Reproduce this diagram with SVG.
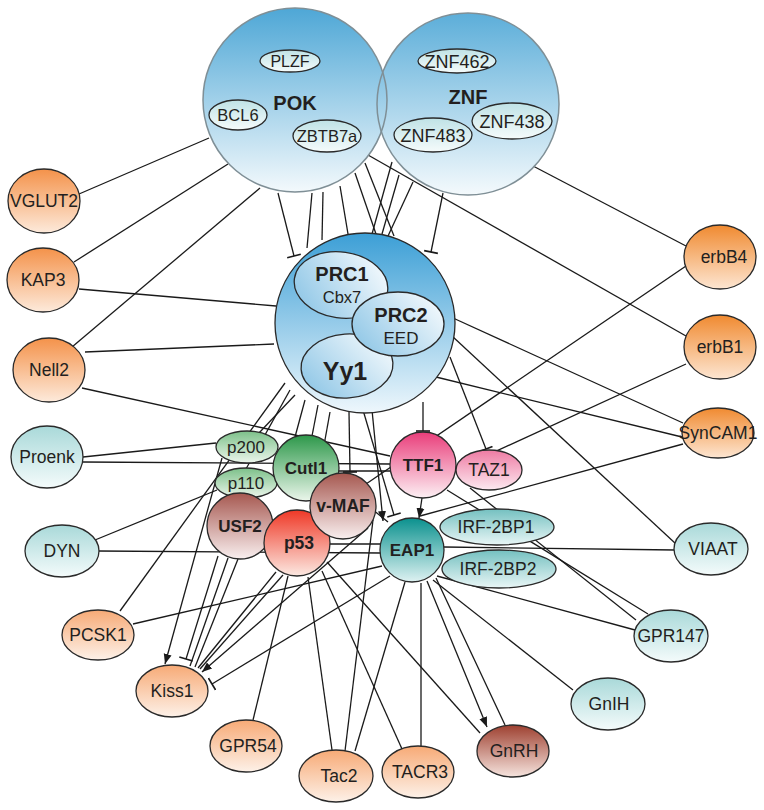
<svg xmlns="http://www.w3.org/2000/svg" width="764" height="810" viewBox="0 0 764 810">
<defs>
<linearGradient id="gBig" x1="0" y1="0" x2="0" y2="1"><stop offset="0" stop-color="#4ea7d6"/><stop offset="1" stop-color="#f3f9fc"/></linearGradient>
<linearGradient id="gPRC" x1="0" y1="0" x2="0" y2="1"><stop offset="0" stop-color="#3c9fd6"/><stop offset="1" stop-color="#eef7fc"/></linearGradient>
<linearGradient id="gIn" x1="0" y1="0.8" x2="1" y2="0.2"><stop offset="0" stop-color="#8ec6e6"/><stop offset="1" stop-color="#f5fafd"/></linearGradient>
<linearGradient id="gSm" x1="0" y1="0" x2="0" y2="1"><stop offset="0" stop-color="#bfe2e6"/><stop offset="1" stop-color="#f5fbfb"/></linearGradient>
<linearGradient id="gOr" x1="0" y1="0" x2="0" y2="1"><stop offset="0" stop-color="#f4924a"/><stop offset="1" stop-color="#fdeadb"/></linearGradient>
<linearGradient id="gOr2" x1="0" y1="0" x2="0" y2="1"><stop offset="0" stop-color="#f08a30"/><stop offset="1" stop-color="#fde6d2"/></linearGradient>
<linearGradient id="gPe" x1="0" y1="0" x2="0" y2="1"><stop offset="0" stop-color="#f7aa76"/><stop offset="1" stop-color="#fdf1e8"/></linearGradient>
<linearGradient id="gCy" x1="0" y1="0" x2="0" y2="1"><stop offset="0" stop-color="#a9d9d9"/><stop offset="1" stop-color="#f4fbfb"/></linearGradient>
<linearGradient id="gTe" x1="0" y1="0" x2="0" y2="1"><stop offset="0" stop-color="#74c0c0"/><stop offset="1" stop-color="#e9f6f6"/></linearGradient>
<linearGradient id="gEAP" x1="0" y1="0" x2="0" y2="1"><stop offset="0" stop-color="#0a918e"/><stop offset="1" stop-color="#def2f2"/></linearGradient>
<linearGradient id="gTTF" x1="0" y1="0" x2="0" y2="1"><stop offset="0" stop-color="#e93d7a"/><stop offset="1" stop-color="#fdf0f4"/></linearGradient>
<linearGradient id="gTAZ" x1="0" y1="0" x2="0" y2="1"><stop offset="0" stop-color="#ee7ba3"/><stop offset="1" stop-color="#fce9f0"/></linearGradient>
<linearGradient id="gCut" x1="0" y1="0" x2="0" y2="1"><stop offset="0" stop-color="#2d984a"/><stop offset="1" stop-color="#ebf6eb"/></linearGradient>
<linearGradient id="gPg" x1="0" y1="0" x2="0" y2="1"><stop offset="0" stop-color="#7cc089"/><stop offset="1" stop-color="#ecf6ec"/></linearGradient>
<linearGradient id="gMAF" x1="0" y1="0" x2="0" y2="1"><stop offset="0" stop-color="#a65850"/><stop offset="1" stop-color="#f9efef"/></linearGradient>
<linearGradient id="gP53" x1="0" y1="0" x2="0" y2="1"><stop offset="0" stop-color="#ef3826"/><stop offset="1" stop-color="#fce9e2"/></linearGradient>
<linearGradient id="gGn" x1="0" y1="0" x2="0" y2="1"><stop offset="0" stop-color="#9e4030"/><stop offset="1" stop-color="#f6e4de"/></linearGradient>
<marker id="arr" viewBox="0 0 10 10" refX="10" refY="5" markerWidth="10" markerHeight="10" markerUnits="userSpaceOnUse" orient="auto"><path d="M0,1 L10,5 L0,9 z" fill="#1a1a1a"/></marker>
<marker id="bar" viewBox="0 0 4 14" refX="2" refY="7" markerWidth="4" markerHeight="14" markerUnits="userSpaceOnUse" orient="auto"><path d="M2,0 V14" stroke="#1a1a1a" stroke-width="1.6"/></marker>
</defs>
<style>
.e{stroke:#1a1a1a;stroke-width:1.3;fill:none}
.a{marker-end:url(#arr)}
.b{marker-end:url(#bar)}
.n{stroke:#2a2a2a;stroke-width:1.3}
.big{stroke:#7f8f96;stroke-width:1.5}
text{font-family:"Liberation Sans",Arial,sans-serif;fill:#231f20;text-anchor:middle}
.t{font-size:17.5px}
.bd{font-weight:bold}
</style>
<rect width="764" height="810" fill="#ffffff"/>
<g id="connectors">
<line class="e" x1="79" y1="194" x2="209" y2="138"/>
<line class="e" x1="74" y1="262" x2="228" y2="164"/>
<line class="e" x1="72" y1="347" x2="260" y2="188"/>
<line class="e b" x1="278" y1="193" x2="294" y2="256"/>
<line class="e" x1="312" y1="193" x2="307" y2="248"/>
<line class="e" x1="323" y1="192" x2="322" y2="240"/>
<line class="e" x1="340" y1="186" x2="348" y2="234"/>
<line class="e" x1="355" y1="173" x2="376" y2="234"/>
<line class="e" x1="365" y1="163" x2="394" y2="236"/>
<line class="e" x1="368" y1="155" x2="686" y2="336"/>
<line class="e" x1="392" y1="162" x2="372" y2="234"/>
<line class="e" x1="399" y1="175" x2="382" y2="234"/>
<line class="e" x1="413" y1="182" x2="388" y2="236"/>
<line class="e b" x1="443" y1="193" x2="431" y2="252"/>
<line class="e" x1="533" y1="166" x2="686" y2="246"/>
<line class="e" x1="79" y1="289" x2="276" y2="306"/>
<line class="e" x1="85" y1="352" x2="274" y2="344"/>
<line class="e" x1="82" y1="388" x2="390" y2="456"/>
<line class="e" x1="83" y1="457" x2="216" y2="443"/>
<line class="e" x1="83" y1="462" x2="390" y2="464"/>
<line class="e" x1="95" y1="540" x2="217" y2="490"/>
<line class="e" x1="98" y1="551" x2="381" y2="553"/>
<line class="e" x1="133" y1="624" x2="382" y2="566"/>
<line class="e" x1="285" y1="383" x2="120" y2="611"/>
<line class="e a" x1="222" y1="458" x2="165" y2="664"/>
<line class="e" x1="453" y1="318" x2="683" y2="423"/>
<line class="e" x1="436" y1="377" x2="682" y2="437"/>
<line class="e" x1="452" y1="336" x2="676" y2="544"/>
<line class="e" x1="420" y1="516" x2="683" y2="444"/>
<line class="e" x1="686" y1="266" x2="366" y2="484"/>
<line class="e" x1="686" y1="364" x2="455" y2="470"/>
<line class="e b" x1="423" y1="402" x2="423" y2="431"/>
<line class="e b" x1="450" y1="357" x2="486" y2="449"/>
<line class="e a" x1="422" y1="498" x2="419" y2="518"/>
<line class="e" x1="447" y1="490" x2="648" y2="614"/>
<line class="e" x1="470" y1="488" x2="636" y2="620"/>
<line class="e" x1="444" y1="547" x2="675" y2="550"/>
<line class="e" x1="437" y1="576" x2="635" y2="630"/>
<line class="e" x1="433" y1="580" x2="573" y2="690"/>
<line class="e a" x1="427" y1="581" x2="487" y2="727"/>
<line class="e" x1="436" y1="578" x2="505" y2="725"/>
<line class="e" x1="421" y1="583" x2="421" y2="747"/>
<line class="e" x1="405" y1="582" x2="355" y2="751"/>
<line class="e b" x1="390" y1="576" x2="212" y2="684"/>
<line class="e" x1="329" y1="544" x2="381" y2="544"/>
<line class="e b" x1="218" y1="556" x2="186" y2="659"/>
<line class="e" x1="228" y1="558" x2="190" y2="666"/>
<line class="e" x1="238" y1="559" x2="195" y2="667"/>
<line class="e" x1="276" y1="572" x2="198" y2="668"/>
<line class="e" x1="283" y1="575" x2="200" y2="669"/>
<line class="e a" x1="368" y1="528" x2="202" y2="672"/>
<line class="e" x1="288" y1="576" x2="253" y2="720"/>
<line class="e" x1="308" y1="577" x2="332" y2="750"/>
<line class="e" x1="322" y1="571" x2="402" y2="749"/>
<line class="e" x1="327" y1="562" x2="480" y2="733"/>
<line class="e" x1="373" y1="520" x2="345" y2="751"/>
<line class="e" x1="295" y1="395" x2="258" y2="434"/>
<line class="e" x1="305" y1="400" x2="295" y2="437"/>
<line class="e" x1="318" y1="405" x2="312" y2="436"/>
<line class="e" x1="290" y1="390" x2="232" y2="494"/>
<line class="e b" x1="349" y1="412" x2="350" y2="472"/>
<line class="e b" x1="363" y1="410" x2="394" y2="515"/>
<line class="e a" x1="372" y1="410" x2="383" y2="521"/>
<line class="e" x1="330" y1="412" x2="312" y2="512"/>
<line class="e" x1="338" y1="471" x2="390" y2="471"/>
<line class="e" x1="336" y1="480" x2="388" y2="522"/>
</g>
<g id="POK">
<circle cx="295" cy="100" r="92" fill="url(#gBig)"/>
</g>
<g id="ZNF">
<circle cx="468" cy="104" r="91" fill="url(#gBig)" fill-opacity="0.92"/>
</g>
<g id="big-outlines">
<circle cx="295" cy="100" r="92" fill="none" class="big"/>
<circle cx="468" cy="104" r="91" fill="none" class="big"/>
<text class="bd" x="295" y="110" font-size="20">POK</text>
<text class="bd" x="468" y="104" font-size="20">ZNF</text>
</g>
<g id="PLZF"><ellipse class="n" cx="290" cy="61" rx="30" ry="11" fill="url(#gSm)"/><text x="290" y="67" font-size="16">PLZF</text></g>
<g id="BCL6"><ellipse class="n" cx="238" cy="115" rx="29" ry="15" fill="url(#gSm)"/><text x="238" y="121" font-size="16.5">BCL6</text></g>
<g id="ZBTB7a"><ellipse class="n" cx="327" cy="136" rx="34" ry="16" fill="url(#gSm)"/><text x="327" y="142" font-size="16.5">ZBTB7a</text></g>
<g id="ZNF462"><ellipse class="n" cx="457" cy="61" rx="39" ry="12" fill="url(#gSm)"/><text x="457" y="67.5" font-size="18">ZNF462</text></g>
<g id="ZNF483"><ellipse class="n" cx="433" cy="135" rx="39" ry="17" fill="url(#gSm)"/><text x="433" y="141.5" font-size="18">ZNF483</text></g>
<g id="ZNF438"><ellipse class="n" cx="512" cy="121" rx="40" ry="18" fill="url(#gSm)"/><text x="512" y="127.5" font-size="18">ZNF438</text></g>
<g id="PRC">
<circle class="n" cx="365" cy="323" r="90" fill="url(#gPRC)"/>
<ellipse class="n" cx="341" cy="285" rx="47" ry="33" transform="rotate(8 341 285)" fill="url(#gIn)"/>
<ellipse class="n" cx="347" cy="366" rx="46" ry="32" transform="rotate(-4 347 366)" fill="url(#gIn)"/>
<ellipse class="n" cx="398" cy="324" rx="46" ry="32" fill="url(#gIn)"/>
<text class="bd" x="342" y="281" font-size="20">PRC1</text>
<text x="342" y="303" font-size="16.5">Cbx7</text>
<text class="bd" x="401" y="322" font-size="20">PRC2</text>
<text x="401" y="344" font-size="17">EED</text>
<text class="bd" x="345" y="380" font-size="25">Yy1</text>
</g>
<g id="VGLUT2"><ellipse class="n" cx="44" cy="201" rx="36" ry="32" fill="url(#gOr)"/><text class="t" x="44" y="207">VGLUT2</text></g>
<g id="KAP3"><ellipse class="n" cx="43" cy="280" rx="36" ry="32" fill="url(#gOr)"/><text class="t" x="43" y="286">KAP3</text></g>
<g id="Nell2"><ellipse class="n" cx="49" cy="370" rx="36" ry="32" fill="url(#gOr)"/><text class="t" x="49" y="376">Nell2</text></g>
<g id="Proenk"><ellipse class="n" cx="47" cy="457" rx="36" ry="31" fill="url(#gCy)"/><text class="t" x="47" y="463">Proenk</text></g>
<g id="DYN"><ellipse class="n" cx="62" cy="551" rx="37" ry="26" fill="url(#gCy)"/><text class="t" x="62" y="557">DYN</text></g>
<g id="PCSK1"><ellipse class="n" cx="98" cy="635" rx="36" ry="25" fill="url(#gPe)"/><text class="t" x="98" y="641">PCSK1</text></g>
<g id="Kiss1"><ellipse class="n" cx="172" cy="691" rx="36" ry="26" fill="url(#gPe)"/><text class="t" x="172" y="697">Kiss1</text></g>
<g id="GPR54"><ellipse class="n" cx="246" cy="746" rx="36" ry="26" fill="url(#gPe)"/><text class="t" x="248" y="752">GPR54</text></g>
<g id="Tac2"><ellipse class="n" cx="336" cy="776" rx="37" ry="26" fill="url(#gPe)"/><text class="t" x="339" y="782">Tac2</text></g>
<g id="TACR3"><ellipse class="n" cx="418" cy="772" rx="36" ry="26" fill="url(#gPe)"/><text class="t" x="420" y="778">TACR3</text></g>
<g id="GnRH"><ellipse class="n" cx="513" cy="751" rx="36" ry="26" fill="url(#gGn)"/><text class="t" x="514" y="757">GnRH</text></g>
<g id="GnIH"><ellipse class="n" cx="608" cy="704" rx="37" ry="26" fill="url(#gCy)"/><text class="t" x="609" y="710">GnIH</text></g>
<g id="GPR147"><ellipse class="n" cx="671" cy="636" rx="37" ry="26" fill="url(#gCy)"/><text class="t" x="671" y="642">GPR147</text></g>
<g id="VIAAT"><ellipse class="n" cx="711" cy="549" rx="37" ry="26" fill="url(#gCy)"/><text class="t" x="713" y="555">VIAAT</text></g>
<g id="erbB4"><ellipse class="n" cx="720" cy="257" rx="36" ry="32" fill="url(#gOr2)"/><text class="t" x="724" y="263">erbB4</text></g>
<g id="erbB1"><ellipse class="n" cx="720" cy="347" rx="36" ry="32" fill="url(#gOr2)"/><text class="t" x="720" y="353">erbB1</text></g>
<g id="SynCAM1"><ellipse class="n" cx="718" cy="433" rx="36" ry="25" fill="url(#gOr2)"/><text class="t" x="718" y="439">SynCAM1</text></g>
<g id="IRF-2BP1"><ellipse class="n" cx="497" cy="527" rx="57" ry="18" fill="url(#gTe)"/><text class="t" x="496" y="533">IRF-2BP1</text></g>
<g id="IRF-2BP2"><ellipse class="n" cx="499" cy="569" rx="57" ry="19" fill="url(#gTe)"/><text class="t" x="498" y="575">IRF-2BP2</text></g>
<g id="EAP1"><circle class="n" cx="412" cy="550" r="32" fill="url(#gEAP)"/><text class="bd" x="412" y="556" font-size="17">EAP1</text></g>
<g id="TTF1"><circle class="n" cx="423" cy="465" r="33" fill="url(#gTTF)"/><text class="bd" x="423" y="471" font-size="17">TTF1</text></g>
<g id="TAZ1"><ellipse class="n" cx="489" cy="470" rx="33" ry="20" fill="url(#gTAZ)"/><text class="t" x="489" y="476">TAZ1</text></g>
<g id="p200"><ellipse class="n" cx="247" cy="447" rx="31" ry="16" fill="url(#gPg)"/><text x="246" y="453" font-size="17">p200</text></g>
<g id="p110"><ellipse class="n" cx="246" cy="483" rx="31" ry="15" fill="url(#gPg)"/><text x="246" y="489" font-size="17">p110</text></g>
<g id="Cutl1"><circle class="n" cx="306" cy="468" r="33" fill="url(#gCut)"/><text class="bd" x="306" y="474" font-size="17">Cutl1</text></g>
<g id="USF2"><circle class="n" cx="240" cy="526" r="33" fill="url(#gMAF)"/><text class="bd" x="240" y="532" font-size="17">USF2</text></g>
<g id="p53"><circle class="n" cx="297" cy="543" r="33" fill="url(#gP53)"/><text class="bd" x="299" y="549" font-size="17.5">p53</text></g>
<g id="v-MAF"><circle class="n" cx="343" cy="506" r="33" fill="url(#gMAF)"/><text class="bd" x="343" y="512" font-size="17.5">v-MAF</text></g>
</svg>
